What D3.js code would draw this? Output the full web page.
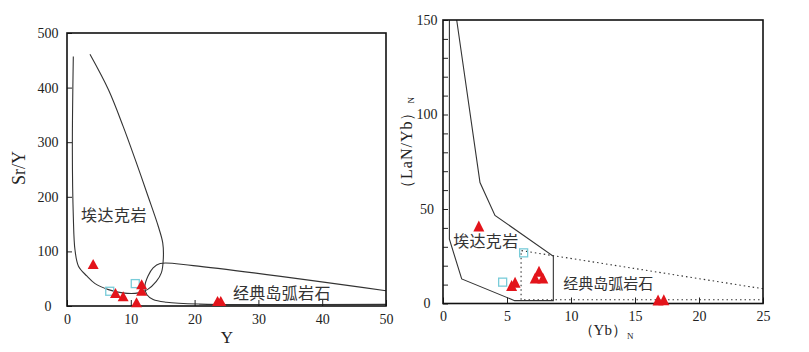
<!DOCTYPE html>
<html>
<head>
<meta charset="utf-8">
<script src="https://cdn.jsdelivr.net/npm/d3@7"></script>
<style>
  body { margin: 0; background: #fff; }
  svg { display: block; }
  text { font-family: "Liberation Serif", "Times New Roman", serif; fill: #222; }
  .cn { font-family: "Noto Sans CJK SC", sans-serif; fill: #333; }
</style>
</head>
<body>
<div id="chart"></div>
<script>
// ---- left panel: Sr/Y vs Y ----
const srTriangles = [[4.1, 77], [7.6, 24], [8.8, 18], [10.9, 7], [11.7, 40], [11.7, 28], [23.6, 9], [24.1, 9]];
const srSquares = [[6.7, 27], [10.7, 41]];
const srAdakite = [[0.99, 457], [0.84, 287], [0.99, 164], [1.25, 103], [1.8, 73], [3.1, 55], [4.4, 41],
  [6.5, 30], [8.7, 24], [11.2, 24], [12.6, 30], [14.0, 45], [14.8, 61], [15.1, 88], [15.0, 116],
  [14.3, 146], [12.7, 201], [10.7, 268], [8.8, 329], [6.5, 396], [3.6, 461]];
const srIslandArc = [[50, 28], [19.8, 74], [14.6, 78], [13.5, 70], [12.7, 55], [12.2, 36], [12.5, 21],
  [13.5, 12], [15.6, 7], [20.8, 3.5], [30, 2.5], [50, 3]];
const srXTicks = [0, 10, 20, 30, 40, 50];
const srYTicks = [0, 100, 200, 300, 400, 500];

// ---- right panel: (La/Yb)N vs (Yb)N ----
const laTriangles = [[2.8, 41], [5.36, 9.5], [5.63, 11.3], [7.5, 17], [7.2, 13.5], [7.8, 13.5], [16.8, 1.8], [17.25, 2]];
const laSquares = [[4.66, 11.3], [6.3, 26.8]];
const laAdakite = [[0.5, 150], [0.5, 34], [1.46, 13], [5.6, 1.5], [8.62, 1.5], [8.62, 25], [4.06, 46.6], [2.89, 64], [1.07, 150]];
const laDotted = [[25, 7.8], [6.1, 28], [6.1, 2], [25, 2]];
const laXTicks = [0, 5, 10, 15, 20, 25];
const laYTicks = [0, 10, 20, 30, 40, 50, 60, 70, 80, 90, 100, 110, 120, 130, 140, 150];
const laYLabels = [0, 50, 100, 150];

const width = 809, height = 352;
const red = "#e3141b", cyan = "#79ccd9";

const svg = d3.select("#chart").append("svg")
  .attr("width", width)
  .attr("height", height);

function triPath(cx, cy, w, h) {
  return `M${cx},${cy - h / 2}L${cx + w / 2},${cy + h / 2}L${cx - w / 2},${cy + h / 2}Z`;
}

function panel(x, y, opt) {
  const g = svg.append("g");
  const line = d3.line().x(d => x(d[0])).y(d => y(d[1]));

  // boundary curves
  opt.curves.forEach(c => {
    g.append("path")
      .attr("d", line.curve(c.curve)(c.data))
      .attr("fill", "none")
      .attr("stroke", "#333")
      .attr("stroke-width", 1.1)
      .attr("stroke-dasharray", c.dash || null);
  });

  // axes (ticks point inward)
  const xa = g.append("g")
    .attr("transform", `translate(0,${y.range()[0]})`)
    .call(d3.axisBottom(x).tickValues(opt.xTicks).tickSize(-6).tickPadding(8));
  const ya = g.append("g")
    .attr("transform", `translate(${x.range()[0]},0)`)
    .call(d3.axisLeft(y).tickValues(opt.yTicks).tickSize(-5)
      .tickFormat(d => opt.yLabels.includes(d) ? d : ""));
  [xa, ya].forEach(a => {
    a.select(".domain").remove();
    a.selectAll("line").attr("stroke", "#222").attr("stroke-width", 1);
    a.selectAll("text").style("font-size", "14px").attr("fill", "#222");
  });
  ya.selectAll("text").attr("text-anchor", "middle").attr("x", -opt.yLabelOff);

  // frame
  g.append("rect")
    .attr("x", x.range()[0]).attr("y", y.range()[1])
    .attr("width", x.range()[1] - x.range()[0])
    .attr("height", y.range()[0] - y.range()[1])
    .attr("fill", "none").attr("stroke", "#111").attr("stroke-width", 1.6);

  // samples
  g.selectAll(".sq").data(opt.squares).enter().append("rect")
    .attr("x", d => x(d[0]) - 4).attr("y", d => y(d[1]) - 4)
    .attr("width", 8).attr("height", 8)
    .attr("fill", "none").attr("stroke", cyan).attr("stroke-width", 1.3);
  g.selectAll(".tri").data(opt.triangles).enter().append("path")
    .attr("d", d => triPath(x(d[0]), y(d[1]), opt.tri[0], opt.tri[1]))
    .attr("fill", red);
  return g;
}

// left
const xL = d3.scaleLinear().domain([0, 50]).range([67, 386]);
const yL = d3.scaleLinear().domain([0, 500]).range([306, 33]);
const gL = panel(xL, yL, {
  curves: [{ data: srAdakite, curve: d3.curveCatmullRom }, { data: srIslandArc, curve: d3.curveCatmullRom }],
  xTicks: srXTicks, yTicks: srYTicks, yLabels: srYTicks, yLabelOff: 19,
  squares: srSquares, triangles: srTriangles, tri: [11, 10]
});
gL.append("text").attr("class", "cn").attr("x", xL(2.2)).attr("y", yL(155))
  .style("font-size", "16px").style("letter-spacing", "0.5px").text("埃达克岩");
gL.append("text").attr("class", "cn").attr("x", xL(26)).attr("y", yL(12))
  .style("font-size", "16px").style("letter-spacing", "0.3px").text("经典岛弧岩石");
gL.append("text").attr("transform", "translate(25,168) rotate(-90)")
  .attr("text-anchor", "middle").style("font-size", "18px").text("Sr/Y");
gL.append("text").attr("x", 227).attr("y", 343)
  .attr("text-anchor", "middle").style("font-size", "17px").text("Y");

// right
const xR = d3.scaleLinear().domain([0, 25]).range([443, 763]);
const yR = d3.scaleLinear().domain([0, 150]).range([303.5, 20]);
const gR = panel(xR, yR, {
  curves: [{ data: laAdakite, curve: d3.curveLinear }, { data: laDotted, curve: d3.curveLinear, dash: "1.5,3" }],
  xTicks: laXTicks, yTicks: laYTicks, yLabels: laYLabels, yLabelOff: 16,
  squares: laSquares, triangles: laTriangles, tri: [11, 11]
});
gR.append("text").attr("class", "cn").attr("x", xR(0.8)).attr("y", yR(30))
  .style("font-size", "16px").style("letter-spacing", "0.3px").text("埃达克岩");
gR.append("text").attr("class", "cn").attr("x", xR(9.4)).attr("y", yR(7.5))
  .style("font-size", "15px").text("经典岛弧岩石");
const yt = gR.append("text").attr("transform", "translate(412,146) rotate(-90)")
  .attr("text-anchor", "middle").style("font-size", "16px").style("letter-spacing", "1px");
yt.append("tspan").text("（LaN/Yb）");
yt.append("tspan").attr("dy", 2).style("font-size", "9px").text("N");
const xt = gR.append("text").attr("x", 606).attr("y", 335)
  .attr("text-anchor", "middle").style("font-size", "15px");
xt.append("tspan").text("（Yb）");
xt.append("tspan").attr("dy", 4).style("font-size", "9px").text("N");
</script>
</body>
</html>
